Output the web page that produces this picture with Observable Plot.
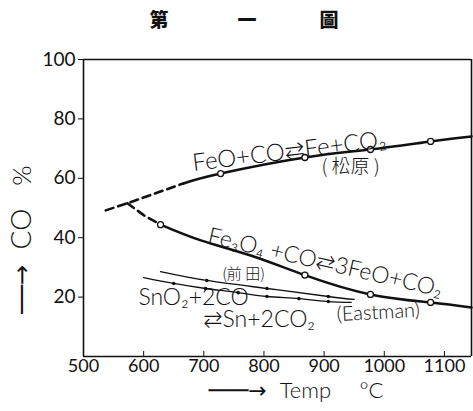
<!DOCTYPE html>
<html>
<head>
<meta charset="utf-8">
<script src="https://cdn.jsdelivr.net/npm/d3@7"></script>
<script src="https://cdn.jsdelivr.net/npm/@observablehq/plot@0.6"></script>
<style>
  html, body { margin: 0; padding: 0; background: #fff; }
  #wrap { position: relative; width: 473px; height: 411px; overflow: hidden; }
  #title { position: relative; height: 40px; width: 473px; font-family: "Noto Sans CJK TC", "Noto Sans CJK SC", sans-serif; font-weight: 900; font-size: 19px; color: #111; }
  #title span { position: absolute; top: 9px; transform: translateX(-50%); line-height: 1; }
  svg { display: block; }
</style>
</head>
<body>
<div id="wrap">
  <div id="title"><span style="left:159px">第</span><span style="left:247px">一</span><span style="left:329px">圖</span></div>
  <div id="chart"></div>
</div>
<script>
// ---- data (temperature °C, CO %) ----
const xTickLabels = [500, 600, 700, 800, 900, 1000, 1100];
const xTickMarks = [600, 700, 800, 900, 1000, 1100];
const yTickLabels = [20, 40, 60, 80, 100];
const xDomain = [500, 1145];
const yDomain = [0, 100];

// FeO + CO ⇄ Fe + CO2 (松原)
const feoT = [665, 728, 868, 977, 1077, 1145];
const feoCO = [58.2, 61.6, 67.0, 69.7, 72.4, 74.1];
const feoMarked = [false, true, true, true, true, false];
const feoDashT = [537, 573, 665];
const feoDashCO = [49.2, 51.6, 58.2];

// Fe3O4 + CO ⇄ 3FeO + CO2
const fe3o4T = [628, 695, 778, 868, 977, 1077, 1145];
const fe3o4CO = [44.4, 39.1, 34.0, 27.4, 20.9, 18.2, 16.5];
const fe3o4Marked = [true, false, false, true, true, true, false];
const fe3o4DashT = [573, 600, 628];
const fe3o4DashCO = [51.6, 47.6, 44.4];

// SnO2 + 2CO ⇄ Sn + 2CO2 (前田)
const snMaedaT = [628, 705, 805, 907, 950];
const snMaedaCO = [28.6, 25.6, 22.9, 20.2, 19.2];
const snMaedaMarked = [false, true, true, true, false];

// SnO2 + 2CO ⇄ Sn + 2CO2 (Eastman)
const snEastT = [600, 650, 703, 757, 805, 858, 907, 945];
const snEastCO = [26.6, 24.6, 22.9, 21.5, 20.2, 19.5, 18.5, 18.2];
const snEastMarked = [false, true, true, true, true, true, true, false];

// annotations (text, anchor temperature, anchor CO %)
const noteText = ["FeO+CO⇄Fe+CO₂", "( 松原 )", "Fe₃O₄ +CO⇄3FeO+CO₂", "(前 田)", "SnO₂+2CO", "⇄Sn+2CO₂", "(Eastman)"];
const noteT = [842, 944, 902, 766, 683, 792, 990];
const noteCO = [69.0, 64.0, 31.6, 27.6, 19.8, 12.3, 14.8];

// axis titles
const yTitleParts = ["──→", "CO", "%"];
const xTitleParts = ["───→", "Temp", "°C"];

const zip = (T, C, M) => T.map((t, i) => ({t, co: C[i], m: M ? M[i] : false}));
const feo = zip(feoT, feoCO, feoMarked);
const feoDash = zip(feoDashT, feoDashCO);
const fe3o4 = zip(fe3o4T, fe3o4CO, fe3o4Marked);
const fe3o4Dash = zip(fe3o4DashT, fe3o4DashCO);
const snMaeda = zip(snMaedaT, snMaedaCO, snMaedaMarked);
const snEast = zip(snEastT, snEastCO, snEastMarked);
const notes = noteText.map((s, i) => ({s, t: noteT[i], co: noteCO[i]}));

const hand = "Lato, 'Open Sans', 'DejaVu Sans', sans-serif";
const arrowFont = "'DejaVu Sans', sans-serif";
const cjk = "'Noto Sans CJK TC', 'Noto Sans CJK SC', sans-serif";
const ink = "#111";

const noteRot = [-7, 0, 13, 0, 0, 0, -3];
const noteSize = [24, 19, 23, 15, 23, 23, 20];
const noteSpacing = [1, 3, 2.5, 3, 2, 3, 3.5];

const yTitleDy = [81.5, 21, -32.5];
const yTitleSize = [24, 28, 26];
const yTitleSpacing = [0, 6, 0];
const xTitleDx = [-40, 28, 94];
const xTitleSpacing = [0, 2, 0];

const textMark = (data, opts) => Plot.text(data, {fill: ink, fontWeight: 300, textAnchor: "middle", lineAnchor: "middle", ...opts});

const chart = Plot.plot({
  width: 473,
  height: 371,
  marginLeft: 83,
  marginRight: 2,
  marginTop: 19,
  marginBottom: 55,
  style: {background: "#fff", color: ink},
  x: {domain: xDomain, label: null},
  y: {domain: yDomain, label: null},
  marks: [
    Plot.axisY(yTickLabels, {tickSize: 5, tickPadding: 3, fontSize: 19, fontFamily: hand, fontWeight: 400, label: null, stroke: ink}),
    Plot.axisX(xTickLabels, {tickSize: 0, tickPadding: 3, fontSize: 18, fontFamily: hand, fontWeight: 400, label: null, tickFormat: d => String(d), letterSpacing: 0.5}),
    Plot.axisX(xTickMarks, {tickSize: -5, tickFormat: () => "", label: null, stroke: ink}),
    Plot.ruleX(xDomain, {stroke: ink, strokeWidth: 1.6}),
    Plot.ruleY(yDomain, {stroke: ink, strokeWidth: 1.6}),
    Plot.line(feoDash, {x: "t", y: "co", stroke: ink, strokeWidth: 2.6, strokeDasharray: "8,5"}),
    Plot.line(fe3o4Dash, {x: "t", y: "co", stroke: ink, strokeWidth: 2.6, strokeDasharray: "8,5"}),
    Plot.line(feo, {x: "t", y: "co", stroke: ink, strokeWidth: 2.6, curve: "natural"}),
    Plot.line(fe3o4, {x: "t", y: "co", stroke: ink, strokeWidth: 2.6, curve: "natural"}),
    Plot.line(snMaeda, {x: "t", y: "co", stroke: ink, strokeWidth: 1.3, curve: "natural"}),
    Plot.line(snEast, {x: "t", y: "co", stroke: ink, strokeWidth: 1.3, curve: "natural"}),
    Plot.dot(feo.filter(d => d.m), {x: "t", y: "co", r: 3, fill: "#fff", stroke: ink, strokeWidth: 1.3}),
    Plot.dot(fe3o4.filter(d => d.m), {x: "t", y: "co", r: 3, fill: "#fff", stroke: ink, strokeWidth: 1.3}),
    Plot.dot(snMaeda.filter(d => d.m), {x: "t", y: "co", r: 1.8, fill: ink}),
    Plot.dot(snEast.filter(d => d.m), {x: "t", y: "co", r: 1.8, fill: ink}),
    ...notes.map((d, i) => textMark([d], {x: "t", y: "co", text: "s", rotate: noteRot[i], fontSize: noteSize[i],
      fontFamily: /[松原前田]/.test(d.s) ? cjk : hand, letterSpacing: noteSpacing[i]})),
    ...yTitleParts.map((s, i) => textMark([s], {frameAnchor: "left", rotate: -90, dx: -61, dy: yTitleDy[i],
      fontSize: yTitleSize[i], letterSpacing: yTitleSpacing[i], fontFamily: i === 0 ? arrowFont : hand, fontWeight: i === 0 ? 400 : 300})),
    ...xTitleParts.map((s, i) => textMark([s], {frameAnchor: "bottom", dx: xTitleDx[i], dy: 34,
      fontSize: 22, letterSpacing: xTitleSpacing[i], fontFamily: i === 0 ? arrowFont : hand, fontWeight: i === 0 ? 400 : 300}))
  ]
});
document.getElementById("chart").appendChild(chart);
</script>
</body>
</html>
